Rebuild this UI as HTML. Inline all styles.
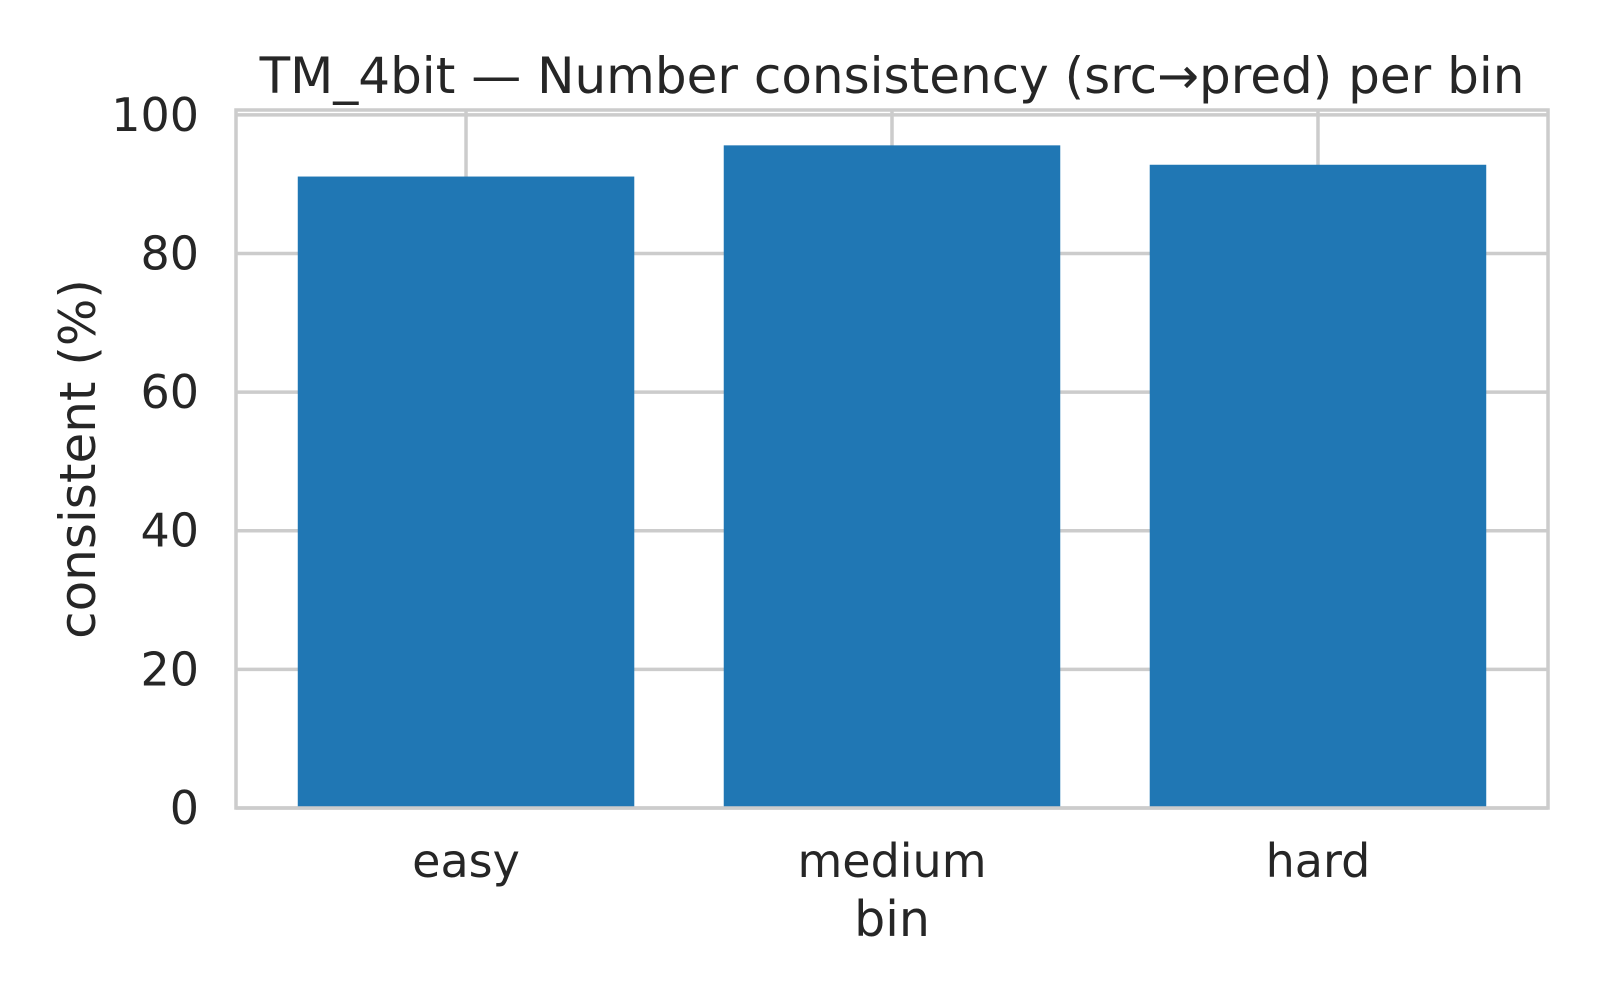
<!DOCTYPE html>
<html><head><meta charset="utf-8"><style>
html,body{margin:0;padding:0;background:#fff;}
svg{display:block;font-family:"DejaVu Sans","Liberation Sans",sans-serif;}
</style></head><body>
<svg id="chart" width="1600" height="1000" viewBox="0 0 1600 1000"></svg>
<script>
const categories = ["easy", "medium", "hard"];
const values = [91.1, 95.6, 92.8];
const yTicks = [0, 20, 40, 60, 80, 100];
const yTickLabels = ["0", "20", "40", "60", "80", "100"];

const svg = document.getElementById('chart');
const NS = 'http://www.w3.org/2000/svg';
const L = 236, R = 1548, T = 110, B = 808;
const yMin = 0, yMax = 100.7;
const xMin = -0.54, xMax = 2.54;
const barW = 0.79;
function y(v){ return B - (v - yMin) / (yMax - yMin) * (B - T); }
function x(i){ return L + (i - xMin) / (xMax - xMin) * (R - L); }
function mk(tag, attrs, parent){
  const e = document.createElementNS(NS, tag);
  for (const k in attrs) e.setAttribute(k, attrs[k]);
  (parent || svg).appendChild(e);
  return e;
}
const grid = mk('g', {});


yTicks.forEach((t) => {
  const ln = mk('line', {x1: L, x2: R, y1: y(t), y2: y(t), stroke: '#cccccc', 'stroke-width': 3.5}, grid);
  
  
});
categories.forEach((c, i) => {
  const ln = mk('line', {x1: x(i), x2: x(i), y1: T, y2: B, stroke: '#cccccc', 'stroke-width': 3.5}, grid);
  
  
});
categories.forEach((c, i) => {
  const x0 = x(i - barW / 2), x1 = x(i + barW / 2);
  const r = mk('rect', {x: x0, y: y(values[i]), width: x1 - x0, height: y(0) - y(values[i]), fill: '#2077b4'});
  
  
  const t = mk('text', {x: x(i), y: 877, 'font-size': 46, fill: '#262626', 'text-anchor': 'middle'});
  t.textContent = c;
  
  
});
yTicks.forEach((tv, i) => {
  const t = mk('text', {x: 199, y: y(tv) + 16, 'font-size': 46, fill: '#262626', 'text-anchor': 'end'});
  t.textContent = yTickLabels[i];
  
  
});
const frame = mk('rect', {x: L, y: T, width: R - L, height: B - T, fill: 'none', stroke: '#cccccc', 'stroke-width': 3.5});


const title = mk('text', {x: 892, y: 93, 'font-size': 50, fill: '#262626', 'text-anchor': 'middle'});
title.textContent = 'TM_4bit — Number consistency (src→pred) per bin';


const xl = mk('text', {x: 892, y: 936, 'font-size': 49, fill: '#262626', 'text-anchor': 'middle'});
xl.textContent = 'bin';


const yl = mk('text', {x: 0, y: 0, 'font-size': 50, fill: '#262626', 'text-anchor': 'middle', transform: 'translate(95,459) rotate(-90)'});
yl.textContent = 'consistent (%)';


</script>
</body></html>
